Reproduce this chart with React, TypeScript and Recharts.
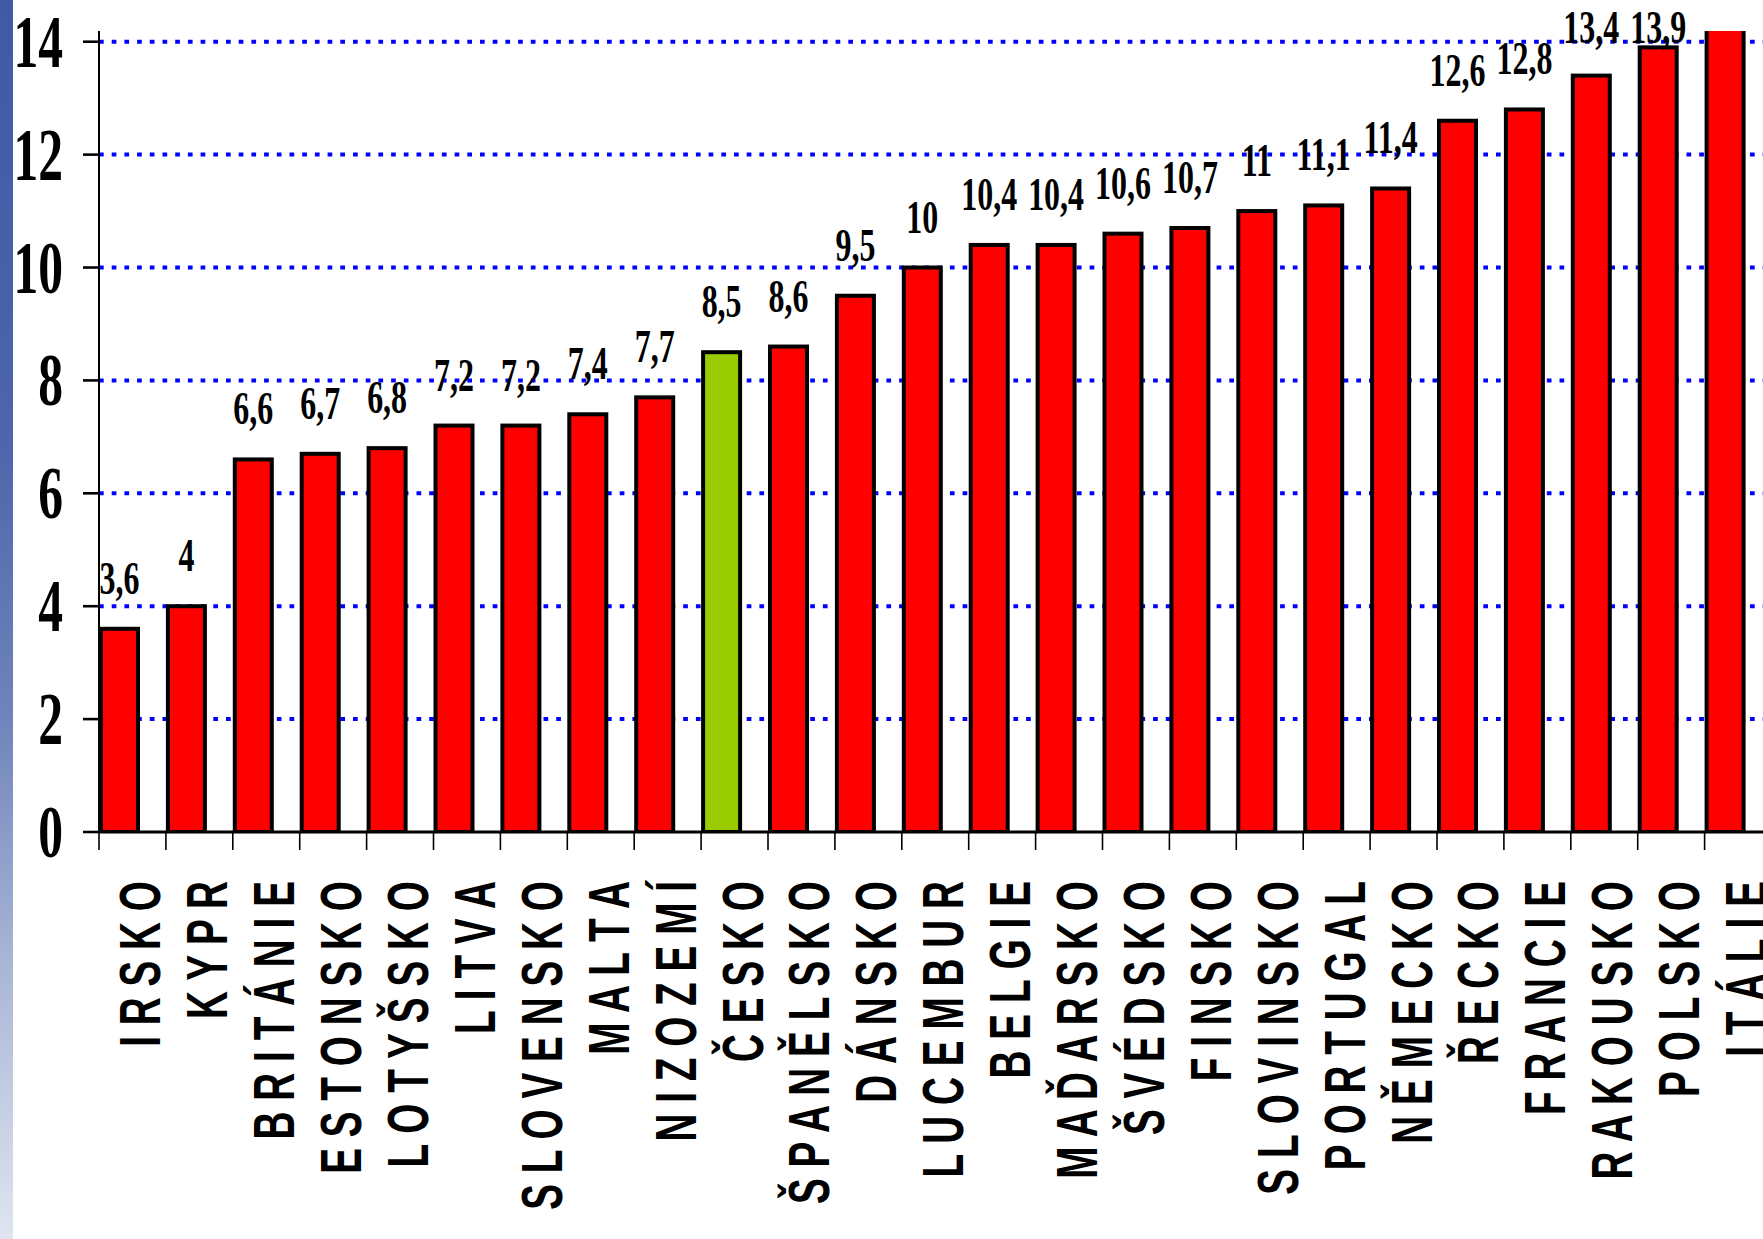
import React from 'react';
import { BarChart, Bar, XAxis, YAxis, CartesianGrid, Cell } from 'recharts';

const countries = ['IRSKO', 'KYPR', 'BRITÁNIE', 'ESTONSKO', 'LOTYŠSKO', 'LITVA', 'SLOVENSKO', 'MALTA',
  'NIZOZEMÍ', 'ČESKO', 'ŠPANĚLSKO', 'DÁNSKO', 'LUCEMBUR', 'BELGIE', 'MAĎARSKO', 'ŠVÉDSKO', 'FINSKO',
  'SLOVINSKO', 'PORTUGAL', 'NĚMECKO', 'ŘECKO', 'FRANCIE', 'RAKOUSKO', 'POLSKO', 'ITÁLIE'];
const values = [3.6, 4, 6.6, 6.7, 6.8, 7.2, 7.2, 7.4, 7.7, 8.5, 8.6, 9.5, 10, 10.4, 10.4, 10.6, 10.7,
  11, 11.1, 11.4, 12.6, 12.8, 13.4, 13.9, 14.6];
const yTicks = [0, 2, 4, 6, 8, 10, 12, 14];
const gridValues = [2, 4, 6, 8, 10, 12, 14];
const highlight = 'ČESKO';

// layout (the original slide is cut off on the right, so the plot runs past the window)
const W = 1800;
const H = 1239;
const PLOT_LEFT = 99;
const PLOT_TOP = 31;
const PLOT_BOTTOM = 832;
const PLOT_RIGHT = 1771.5;
const Y_MAX = 14.19;
const BAND = (PLOT_RIGHT - PLOT_LEFT) / countries.length;
const BAR_SIZE = 37;
const BAR_STROKE = 4;
// excel put the bars against the left tick of each category
const BAR_SHIFT = Math.floor((BAND - BAR_SIZE) / 2) - BAR_STROKE / 2 + 1;

const SERIF = "'Liberation Serif', 'Times New Roman', serif";
const SANS = "'Liberation Sans', Arial, sans-serif";

const data = countries.map((name, i) => ({ name, value: values[i] }));
const fmt = (v: number) => String(v).replace('.', ',');

const XTick = (props: any) => {
  const { x, y, payload } = props;
  const left = x - BAND / 2;
  const spaced = String(payload.value).split('').join(' ');
  return (
    <g>
      <line x1={left} x2={left} y1={y} y2={y + 18} stroke="#000" strokeWidth={1.6} />
      <g transform={`translate(${x + 28}, ${y + 49}) rotate(-90)`}>
        <text transform="scale(0.68, 1)" textAnchor="end" fontFamily={SANS} fontWeight="bold"
              fontSize={57} fill="#000">{spaced}</text>
      </g>
    </g>
  );
};

const YTick = (props: any) => {
  const { x, y, payload } = props;
  return (
    <g transform={`translate(${x - 20}, ${y + 25})`}>
      <text transform="scale(0.66, 1)" textAnchor="end" fontFamily={SERIF} fontWeight="bold"
            fontSize={75} fill="#000">{payload.value}</text>
    </g>
  );
};

const BarShape = (props: any) => {
  const { x, y, width, height, fill } = props;
  if (height == null || width == null) return null;
  return <rect x={x - BAR_SHIFT} y={y} width={width} height={height} fill={fill}
               stroke="#000" strokeWidth={BAR_STROKE} />;
};

const ValueLabel = (props: any) => {
  const vb = props.viewBox || props;
  const { value } = props;
  if (value == null || value > Y_MAX) return null;
  const cx = vb.x - BAR_SHIFT + vb.width / 2;
  const base = Math.max(vb.y - 35, 43);
  return (
    <g transform={`translate(${cx}, ${base})`}>
      <text transform="scale(0.68, 1)" textAnchor="middle" fontFamily={SERIF} fontWeight="bold"
            fontSize={47} fill="#000">{fmt(value)}</text>
    </g>
  );
};

export default function App() {
  return (
    <div style={{ position: 'fixed', left: 0, top: 0, width: 1763, height: 1239, overflow: 'hidden',
                  background: '#fff' }}>
      <div style={{ position: 'absolute', left: 0, top: 0, width: 13, height: '100%',
        background: 'linear-gradient(180deg, #3f5ba5 0%, #4c65ab 35%, #6f84bb 58%, #a9b6d6 78%, #dfe5f0 100%)' }} />
      <div style={{ position: 'absolute', left: 0, top: 0 }}>
        <BarChart width={W} height={H} data={data}
                  margin={{ top: PLOT_TOP, right: W - PLOT_RIGHT, bottom: 0, left: 0 }}>
          <CartesianGrid vertical={false} horizontalValues={gridValues} stroke="#0000ff"
                         strokeWidth={4} strokeDasharray="4.7 8" />
          <XAxis dataKey="name" height={H - PLOT_BOTTOM} interval={0} tickSize={0} tickMargin={0}
                 tickLine={false} axisLine={{ stroke: '#000', strokeWidth: 3 }} tick={XTick} />
          <YAxis width={PLOT_LEFT} domain={[0, Y_MAX]} ticks={yTicks} allowDataOverflow interval={0}
                 tickSize={16} tickMargin={0} tickLine={{ stroke: '#000', strokeWidth: 2.6 }}
                 axisLine={{ stroke: '#000', strokeWidth: 2 }} tick={YTick} />
          <Bar dataKey="value" barSize={BAR_SIZE} isAnimationActive={false} shape={BarShape}
               label={ValueLabel}>
            {data.map((d) => (
              <Cell key={d.name} fill={d.name === highlight ? '#99cc00' : '#ff0000'} />
            ))}
          </Bar>
        </BarChart>
      </div>
    </div>
  );
}
